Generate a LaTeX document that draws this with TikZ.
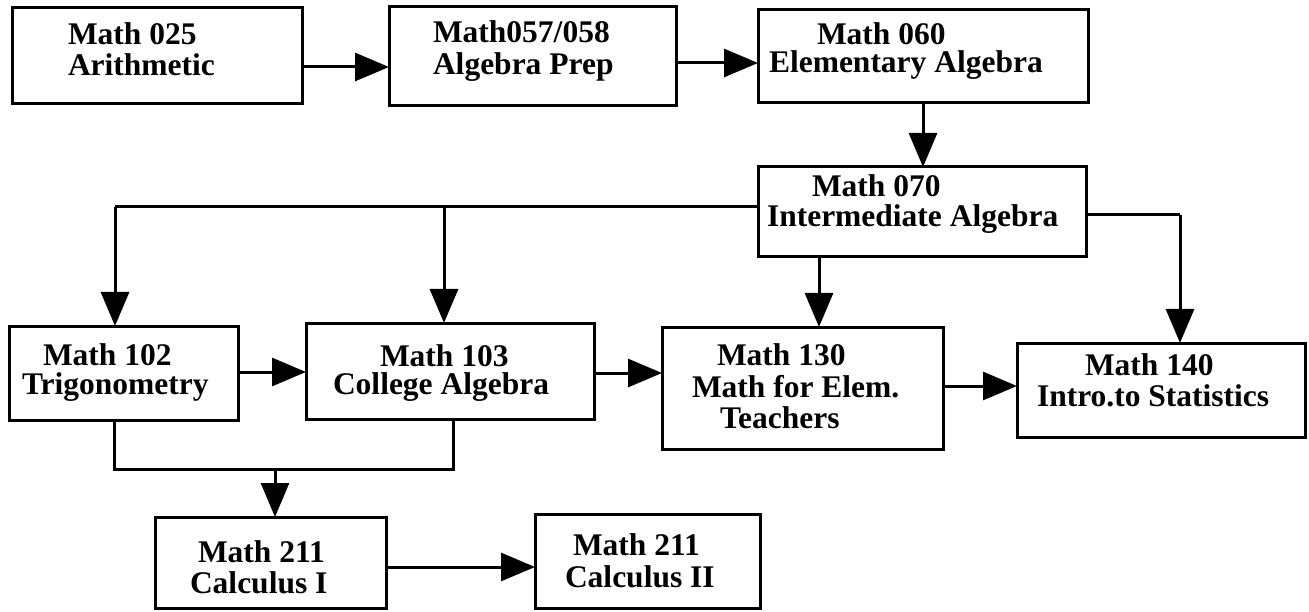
\documentclass[tikz,border=0pt]{standalone}
\usepackage{fontspec}
\setmainfont{Liberation Serif}
\usetikzlibrary{arrows.meta}
\tikzset{
  box/.style={draw=black, line width=3pt, rectangle, inner sep=0pt, outer sep=0pt, fill=white},
  lbl/.style={anchor=base west, inner sep=0pt, outer sep=0pt, font=\bfseries\fontsize{31.5}{31}\selectfont},
  conn/.style={draw=black, line width=3pt},
  arr/.style={conn, -{Triangle[length=34pt,width=28pt]}},
}
\begin{document}
\begin{tikzpicture}[x=1pt,y=-1pt]
\useasboundingbox (0,0) rectangle (1309,612);
\fill[white] (0,0) rectangle (1309,612);
% boxes
\node[box, minimum width=290pt, minimum height=96pt] (b1) at (157,56) {};
\node[box, minimum width=287pt, minimum height=99pt] (b2) at (532.5,56.5) {};
\node[box, minimum width=330pt, minimum height=93pt] (b3) at (923,56.5) {};
\node[box, minimum width=328pt, minimum height=90pt] (b4) at (922,212) {};
\node[box, minimum width=229pt, minimum height=94pt] (b5) at (123.5,373) {};
\node[box, minimum width=288pt, minimum height=96pt] (b6) at (450,371) {};
\node[box, minimum width=281pt, minimum height=122pt] (b7) at (802.5,388) {};
\node[box, minimum width=288pt, minimum height=94pt] (b8) at (1161,390) {};
\node[box, minimum width=231pt, minimum height=91pt] (b9) at (270.5,562.5) {};
\node[box, minimum width=225pt, minimum height=94pt] (b10) at (647.5,561) {};
% labels
\node[lbl] (t1a) at (68,45) {Math 025};
\node[lbl] (t1b) at (68,76) {Arithmetic};
\node[lbl] (t2a) at (433,43) {Math057/058};
\node[lbl] (t2b) at (433,75) {Algebra Prep};
\node[lbl] (t3a) at (817,45) {Math 060};
\node[lbl] (t3b) at (769,73) {Elementary Algebra};
\node[lbl] (t4a) at (812,197) {Math 070};
\node[lbl] (t4b) at (767,227) {Intermediate Algebra};
\node[lbl] (t5a) at (43,365) {Math 102};
\node[lbl] (t5b) at (22,394) {Trigonometry};
\node[lbl] (t6a) at (380,366) {Math 103};
\node[lbl] (t6b) at (333,394) {College Algebra};
\node[lbl] (t7a) at (717,365) {Math 130};
\node[lbl] (t7b) at (692,397) {Math for Elem.};
\node[lbl] (t7c) at (720,428) {Teachers};
\node[lbl] (t8a) at (1085,375) {Math 140};
\node[lbl] (t8b) at (1037,406) {Intro.to Statistics};
\node[lbl] (t9a) at (198,562) {Math 211};
\node[lbl] (t9b) at (190,593) {Calculus I};
\node[lbl] (t10a) at (573,555) {Math 211};
\node[lbl] (t10b) at (565,587) {Calculus II};
% junctions
\coordinate (j1) at (115,207);
\coordinate (j2) at (444,207);
\coordinate (j3) at (1180,215);
\coordinate (k) at (275,469);
% connectors
\draw[arr] (b1.east |- 0,67) -- (b2.west |- 0,67);
\draw[arr] (b2.east |- 0,63) -- (b3.west |- 0,63);
\draw[arr] (b3.south) -- (b3.south |- b4.north);
\draw[conn] (b4.west |- j1) -- (j1);
\draw[arr] (j1) -- (j1 |- b5.north);
\draw[arr] (j2) -- (j2 |- b6.north);
\draw[arr] (b4.south -| 819,0) -- (b7.north -| 819,0);
\draw[conn] (b4.east |- j3) -- (j3);
\draw[arr] (j3) -- (j3 |- b8.north);
\draw[arr] (b5.east |- 0,372) -- (b6.west |- 0,372);
\draw[arr] (b6.east |- 0,373) -- (b7.west |- 0,373);
\draw[arr] (b7.east |- 0,386) -- (b8.west |- 0,386);
\draw[conn] (b5.south -| 114,0) |- (k) -| (b6.south -| 453,0);
\draw[arr] (k) -- (k |- b9.north);
\draw[arr] (b9.east |- 0,567) -- (b10.west |- 0,567);
\end{tikzpicture}
\end{document}
